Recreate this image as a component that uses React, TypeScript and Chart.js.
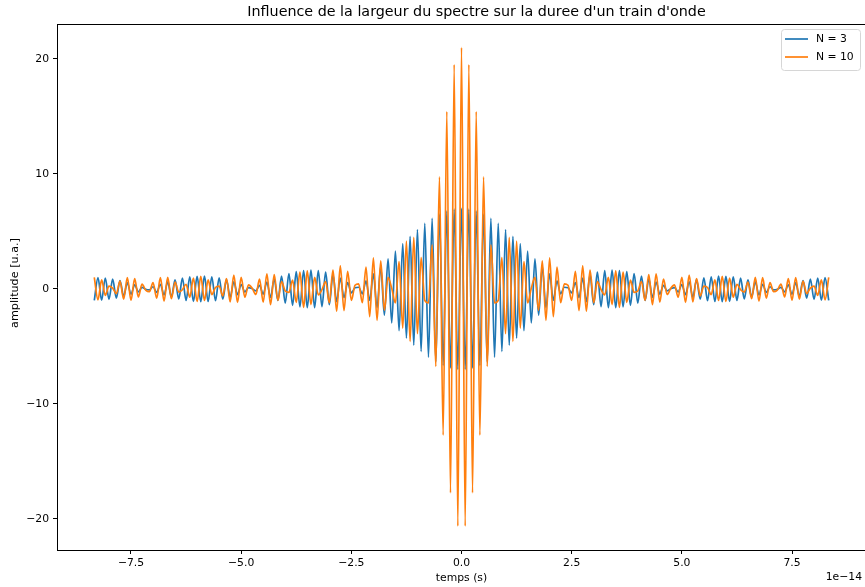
import React, { useEffect, useRef } from "react";
import { Chart, registerables } from "chart.js";

Chart.register(...registerables);

// Time axis, in units of 1e-14 s: samples every half carrier period
const T_START = -8.333;
const T_STEP = 0.08333;

const X_TICKS = [-7.5, -5.0, -2.5, 0.0, 2.5, 5.0, 7.5];
const Y_TICKS = [-20, -10, 0, 10, 20];

const TITLE = "Influence de la largeur du spectre sur la duree d'un train d'onde";
const X_LABEL = "temps (s)";
const Y_LABEL = "amplitude [u.a.]";
const X_OFFSET = "1e\u221214";
const SERIES_NAMES = ["N = 3", "N = 10"];
const COLORS = ["#1f77b4", "#ff7f0e"];

// N = 3 : successive extrema (peaks / troughs)
const N3 = [
  -1.00, 0.99, -0.98, 0.95, -0.91, 0.86, -0.79, 0.72, -0.64, 0.55,
  -0.46, 0.36, -0.25, 0.14, -0.03, -0.08, 0.19, -0.30, 0.41, -0.52,
  0.62, -0.71, 0.80, -0.87, 0.94, -1.00, 1.05, -1.08, 1.10, -1.11,
  1.11, -1.09, 1.06, -1.02, 0.96, -0.89, 0.81, -0.72, 0.62, -0.50,
  0.38, -0.25, 0.12, 0.02, -0.16, 0.31, -0.45, 0.59, -0.74, 0.87,
  -1.00, 1.12, -1.23, 1.33, -1.42, 1.50, -1.56, 1.60, -1.62, 1.63,
  -1.62, 1.59, -1.53, 1.46, -1.36, 1.24, -1.10, 0.94, -0.76, 0.56,
  -0.34, 0.11, 0.15, -0.42, 0.70, -1.00, 1.31, -1.63, 1.95, -2.28,
  2.62, -2.95, 3.29, -3.62, 3.95, -4.27, 4.58, -4.88, 5.17, -5.44,
  5.70, -5.93, 6.15, -6.34, 6.51, -6.66, 6.78, -6.88, 6.94, -6.99,
  7.00,
  -6.99, 6.94, -6.88, 6.78, -6.66, 6.51, -6.34, 6.15, -5.93, 5.70,
  -5.44, 5.17, -4.88, 4.58, -4.27, 3.95, -3.62, 3.29, -2.95, 2.62,
  -2.28, 1.95, -1.63, 1.31, -1.00, 0.70, -0.42, 0.15, 0.11, -0.34,
  0.56, -0.76, 0.94, -1.10, 1.24, -1.36, 1.46, -1.53, 1.59, -1.62,
  1.63, -1.62, 1.60, -1.56, 1.50, -1.42, 1.33, -1.23, 1.12, -1.00,
  0.87, -0.74, 0.59, -0.45, 0.31, -0.16, 0.02, 0.12, -0.25, 0.38,
  -0.50, 0.62, -0.72, 0.81, -0.89, 0.96, -1.02, 1.06, -1.09, 1.11,
  -1.11, 1.10, -1.08, 1.05, -1.00, 0.94, -0.87, 0.80, -0.71, 0.62,
  -0.52, 0.41, -0.30, 0.19, -0.08, -0.03, 0.14, -0.25, 0.36, -0.46,
  0.55, -0.64, 0.72, -0.79, 0.86, -0.91, 0.95, -0.98, 0.99, -1.00,
];

// N = 10 : successive extrema (peaks / troughs)
const N10 = [
  1.00, -0.95, 0.79, -0.55, 0.25, 0.08, -0.40, 0.68, -0.88, 0.99,
  -1.00, 0.90, -0.70, 0.42, -0.10, -0.24, 0.55, -0.81, 0.98, -1.05,
  1.00, -0.85, 0.60, -0.28, -0.07, 0.41, -0.72, 0.95, -1.09, 1.10,
  -1.00, 0.79, -0.49, 0.13, 0.25, -0.61, 0.91, -1.12, 1.21, -1.17,
  1.00, -0.72, 0.35, 0.06, -0.48, 0.85, -1.15, 1.32, -1.36, 1.25,
  -1.00, 0.63, -0.18, -0.30, 0.77, -1.17, 1.46, -1.60, 1.57, -1.36,
  1.00, -0.51, -0.06, 0.64, -1.19, 1.63, -1.92, 2.01, -1.88, 1.53,
  -1.00, 0.32, 0.44, -1.20, 1.89, -2.41, 2.71, -2.73, 2.44, -1.85,
  1.00, 0.05, -1.21, 2.37, -3.40, 4.17, -4.56, 4.49, -3.89, 2.72,
  -1.00, -1.22, 3.84, -6.74, 9.75, -12.71, 15.43, -17.74, 19.51, -20.62,
  21.00,
  -20.62, 19.51, -17.74, 15.43, -12.71, 9.75, -6.74, 3.84, -1.22, -1.00,
  2.72, -3.89, 4.49, -4.56, 4.17, -3.40, 2.37, -1.21, 0.05, 1.00,
  -1.85, 2.44, -2.73, 2.71, -2.41, 1.89, -1.20, 0.44, 0.32, -1.00,
  1.53, -1.88, 2.01, -1.92, 1.63, -1.19, 0.64, -0.06, -0.51, 1.00,
  -1.36, 1.57, -1.60, 1.46, -1.17, 0.77, -0.30, -0.18, 0.63, -1.00,
  1.25, -1.36, 1.32, -1.15, 0.85, -0.48, 0.06, 0.35, -0.72, 1.00,
  -1.17, 1.21, -1.12, 0.91, -0.61, 0.25, 0.13, -0.49, 0.79, -1.00,
  1.10, -1.09, 0.95, -0.72, 0.41, -0.07, -0.28, 0.60, -0.85, 1.00,
  -1.05, 0.98, -0.81, 0.55, -0.24, -0.10, 0.42, -0.70, 0.90, -1.00,
  0.99, -0.88, 0.68, -0.40, 0.08, 0.25, -0.55, 0.79, -0.95, 1.00,
];

const W = 865;
const H = 587;
const FONT = "'DejaVu Sans', sans-serif";
const TICK_PX = 10.8;

const fmt = (v: number, dec: number) =>
  (v < 0 ? "\u2212" : "") + Math.abs(v).toFixed(dec);

const decorPlugin = {
  id: "decor",
  afterDraw(chart: any) {
    const ctx = chart.ctx as CanvasRenderingContext2D;
    const a = chart.chartArea;
    ctx.save();
    // top spine
    ctx.strokeStyle = "#000";
    ctx.lineWidth = 1;
    ctx.beginPath();
    ctx.moveTo(a.left, a.top + 0.5);
    ctx.lineTo(a.right, a.top + 0.5);
    ctx.stroke();

    ctx.fillStyle = "#000";
    // title
    ctx.font = `14.3px ${FONT}`;
    ctx.textAlign = "center";
    ctx.textBaseline = "middle";
    ctx.fillText(TITLE, 476.5, 12.5);
    // x label
    ctx.font = `${TICK_PX}px ${FONT}`;
    ctx.fillText(X_LABEL, 461.5, 578);
    ctx.textAlign = "right";
    ctx.fillText(X_OFFSET, 862, 577);
    // y label
    ctx.save();
    ctx.translate(15, 283);
    ctx.rotate(-Math.PI / 2);
    ctx.textAlign = "center";
    ctx.font = `11.2px ${FONT}`;
    ctx.fillText(Y_LABEL, 0, 0);
    ctx.restore();

    // legend
    const lx = 781.5, ly = 29.5, lw = 79, lh = 41, r = 3;
    ctx.beginPath();
    ctx.moveTo(lx + r, ly);
    ctx.arcTo(lx + lw, ly, lx + lw, ly + lh, r);
    ctx.arcTo(lx + lw, ly + lh, lx, ly + lh, r);
    ctx.arcTo(lx, ly + lh, lx, ly, r);
    ctx.arcTo(lx, ly, lx + lw, ly, r);
    ctx.closePath();
    ctx.fillStyle = "rgba(255,255,255,0.8)";
    ctx.fill();
    ctx.strokeStyle = "#d6d6d6";
    ctx.lineWidth = 1;
    ctx.stroke();
    SERIES_NAMES.forEach((name, i) => {
      const y = 39 + i * 18;
      ctx.strokeStyle = COLORS[i];
      ctx.lineWidth = 1.7;
      ctx.beginPath();
      ctx.moveTo(785, y);
      ctx.lineTo(808, y);
      ctx.stroke();
      ctx.fillStyle = "#000";
      ctx.font = `${TICK_PX}px ${FONT}`;
      ctx.textAlign = "left";
      ctx.textBaseline = "middle";
      ctx.fillText(name, 816, y);
    });
    ctx.restore();
  },
};

export default function App() {
  const ref = useRef<HTMLCanvasElement | null>(null);
  useEffect(() => {
    if (!ref.current) return;
    const toPoints = (arr: number[]) =>
      arr.map((y, i) => ({ x: T_START + i * T_STEP, y }));
    const chart = new Chart(ref.current, {
      type: "line",
      data: {
        datasets: [
          {
            label: SERIES_NAMES[0],
            data: toPoints(N3),
            borderColor: COLORS[0],
            borderWidth: 1.7,
            pointRadius: 0,
            cubicInterpolationMode: "monotone",
            fill: false,
            order: 2,
          },
          {
            label: SERIES_NAMES[1],
            data: toPoints(N10),
            borderColor: COLORS[1],
            borderWidth: 1.7,
            pointRadius: 0,
            cubicInterpolationMode: "monotone",
            fill: false,
            order: 1,
          },
        ],
      },
      options: {
        animation: false,
        responsive: false,
        devicePixelRatio: 1,
        layout: { padding: { top: 24, left: 0, right: 0, bottom: 0 } },
        plugins: {
          legend: { display: false },
          title: { display: false },
          tooltip: { enabled: false },
        },
        scales: {
          x: {
            type: "linear",
            min: -9.179,
            max: 9.156,
            afterFit: (s: any) => {
              s.height = 37;
            },
            afterBuildTicks: (s: any) => {
              s.ticks = X_TICKS.map((v) => ({ value: v }));
            },
            grid: {
              display: true,
              drawOnChartArea: false,
              drawTicks: true,
              tickLength: 4,
              color: "#000",
            },
            border: { display: true, color: "#000", width: 1 },
            ticks: {
              color: "#000",
              font: { family: FONT, size: TICK_PX },
              padding: 3,
              maxRotation: 0,
              autoSkip: false,
              callback: (v: any) => fmt(Number(v), 1),
            },
          },
          y: {
            type: "linear",
            min: -22.7,
            max: 23.04,
            afterFit: (s: any) => {
              s.width = 57;
            },
            afterBuildTicks: (s: any) => {
              s.ticks = Y_TICKS.map((v) => ({ value: v }));
            },
            grid: {
              display: true,
              drawOnChartArea: false,
              drawTicks: true,
              tickLength: 4,
              color: "#000",
            },
            border: { display: true, color: "#000", width: 1 },
            ticks: {
              color: "#000",
              font: { family: FONT, size: TICK_PX },
              padding: 4,
              autoSkip: false,
              callback: (v: any) => fmt(Number(v), 0),
            },
          },
        },
      },
      plugins: [decorPlugin],
    });
    return () => chart.destroy();
  }, []);

  return (
    <div style={{ position: "absolute", left: 0, top: 0, width: W, height: H, background: "#fff" }}>
      <canvas ref={ref} width={W} height={H} style={{ width: W, height: H, display: "block" }} />
    </div>
  );
}
